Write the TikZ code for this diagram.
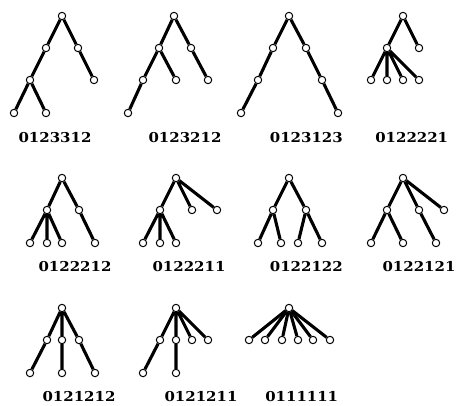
\documentclass[tikz,border=0pt]{standalone}
\usepackage{fontspec}
\newfontfamily\labfont{DejaVu Serif}[BoldFont={DejaVu Serif Bold}]
\begin{document}
\begin{tikzpicture}[x=1pt,y=-1pt,
  vtx/.style={circle,draw,fill=white,inner sep=0pt,minimum size=7.4pt,line width=1pt},
  edge/.style={line width=3.1pt},
  lab/.style={font=\labfont\bfseries\fontsize{13.6}{13.6}\selectfont,inner sep=0pt}]
\useasboundingbox (0,0) rectangle (460,405);
\newcommand\lbl[3]{\node[lab] (#1) at (#2) {\scalebox{1.1}[1]{#3}};}
% Tree 1
\node[vtx] (t1r) at (62,16) {}; \node[vtx] (t1a) at (46,48) {}; \node[vtx] (t1b) at (78,48) {};
\node[vtx] (t1c) at (30,80) {}; \node[vtx] (t1d) at (94,80) {}; \node[vtx] (t1e) at (14,113) {}; \node[vtx] (t1f) at (46,113) {};
\draw[edge] (t1r)--(t1a) (t1r)--(t1b) (t1a)--(t1c) (t1b)--(t1d) (t1c)--(t1e) (t1c)--(t1f);
\lbl{l1}{55,137.3}{0123312}
% Tree 2
\node[vtx] (t2r) at (174,16) {}; \node[vtx] (t2a) at (159,48) {}; \node[vtx] (t2b) at (191,48) {};
\node[vtx] (t2c) at (143,80) {}; \node[vtx] (t2d) at (176,80) {}; \node[vtx] (t2e) at (208,80) {}; \node[vtx] (t2f) at (128,113) {};
\draw[edge] (t2r)--(t2a) (t2r)--(t2b) (t2a)--(t2c) (t2a)--(t2d) (t2b)--(t2e) (t2c)--(t2f);
\lbl{l2}{185,137.3}{0123212}
% Tree 3
\node[vtx] (t3r) at (289,16) {}; \node[vtx] (t3a) at (273,48) {}; \node[vtx] (t3b) at (306,48) {};
\node[vtx] (t3c) at (258,80) {}; \node[vtx] (t3d) at (322,80) {}; \node[vtx] (t3e) at (241,113) {}; \node[vtx] (t3f) at (338,113) {};
\draw[edge] (t3r)--(t3a) (t3r)--(t3b) (t3a)--(t3c) (t3b)--(t3d) (t3c)--(t3e) (t3d)--(t3f);
\lbl{l3}{306.3,137.3}{0123123}
% Tree 4
\node[vtx] (t4r) at (403,16) {}; \node[vtx] (t4a) at (387,48) {}; \node[vtx] (t4b) at (419,48) {};
\node[vtx] (t4c) at (371,80) {}; \node[vtx] (t4d) at (387,80) {}; \node[vtx] (t4e) at (403,80) {}; \node[vtx] (t4f) at (419,80) {};
\draw[edge] (t4r)--(t4a) (t4r)--(t4b) (t4a)--(t4c) (t4a)--(t4d) (t4a)--(t4e) (t4a)--(t4f);
\lbl{l4}{411.7,137.3}{0122221}
% Tree 5
\node[vtx] (t5r) at (62,178) {}; \node[vtx] (t5a) at (47,210) {}; \node[vtx] (t5b) at (79,210) {};
\node[vtx] (t5c) at (30,243) {}; \node[vtx] (t5d) at (47,243) {}; \node[vtx] (t5e) at (62,243) {}; \node[vtx] (t5f) at (95,243) {};
\draw[edge] (t5r)--(t5a) (t5r)--(t5b) (t5a)--(t5c) (t5a)--(t5d) (t5a)--(t5e) (t5b)--(t5f);
\lbl{l5}{75,266.7}{0122212}
% Tree 6
\node[vtx] (t6r) at (176,178) {}; \node[vtx] (t6a) at (160,210) {}; \node[vtx] (t6b) at (192,210) {}; \node[vtx] (t6c) at (217,210) {};
\node[vtx] (t6d) at (143,243) {}; \node[vtx] (t6e) at (160,243) {}; \node[vtx] (t6f) at (176,243) {};
\draw[edge] (t6r)--(t6a) (t6r)--(t6b) (t6r)--(t6c) (t6a)--(t6d) (t6a)--(t6e) (t6a)--(t6f);
\lbl{l6}{189,266.7}{0122211}
% Tree 7
\node[vtx] (t7r) at (289,178) {}; \node[vtx] (t7a) at (273,210) {}; \node[vtx] (t7b) at (306,210) {};
\node[vtx] (t7c) at (258,243) {}; \node[vtx] (t7d) at (281,243) {}; \node[vtx] (t7e) at (298,243) {}; \node[vtx] (t7f) at (322,243) {};
\draw[edge] (t7r)--(t7a) (t7r)--(t7b) (t7a)--(t7c) (t7a)--(t7d) (t7b)--(t7e) (t7b)--(t7f);
\lbl{l7}{306.3,266.7}{0122122}
% Tree 8
\node[vtx] (t8r) at (403,178) {}; \node[vtx] (t8a) at (387,210) {}; \node[vtx] (t8b) at (419,210) {}; \node[vtx] (t8c) at (444,210) {};
\node[vtx] (t8d) at (371,243) {}; \node[vtx] (t8e) at (403,243) {}; \node[vtx] (t8f) at (436,243) {};
\draw[edge] (t8r)--(t8a) (t8r)--(t8b) (t8r)--(t8c) (t8a)--(t8d) (t8a)--(t8e) (t8b)--(t8f);
\lbl{l8}{419,266.7}{0122121}
% Tree 9
\node[vtx] (t9r) at (62,308) {}; \node[vtx] (t9a) at (47,340) {}; \node[vtx] (t9b) at (62,340) {}; \node[vtx] (t9c) at (79,340) {};
\node[vtx] (t9d) at (30,373) {}; \node[vtx] (t9e) at (62,373) {}; \node[vtx] (t9f) at (95,373) {};
\draw[edge] (t9r)--(t9a) (t9r)--(t9b) (t9r)--(t9c) (t9a)--(t9d) (t9b)--(t9e) (t9c)--(t9f);
\lbl{l9}{79,396.3}{0121212}
% Tree 10
\node[vtx] (tAr) at (176,308) {}; \node[vtx] (tAa) at (160,340) {}; \node[vtx] (tAb) at (176,340) {}; \node[vtx] (tAc) at (192,340) {}; \node[vtx] (tAd) at (208,340) {};
\node[vtx] (tAe) at (143,373) {}; \node[vtx] (tAf) at (176,373) {};
\draw[edge] (tAr)--(tAa) (tAr)--(tAb) (tAr)--(tAc) (tAr)--(tAd) (tAa)--(tAe) (tAb)--(tAf);
\lbl{l10}{201,396.3}{0121211}
% Tree 11
\node[vtx] (tBr) at (289,308) {};
\foreach \n/\x in {a/249,b/265,c/282,d/298,e/313,f/330}{
  \node[vtx] (tB\n) at (\x,340) {};
  \draw[edge] (tBr)--(tB\n);
}
\lbl{l11}{301.7,396.3}{0111111}
\end{tikzpicture}
\end{document}
